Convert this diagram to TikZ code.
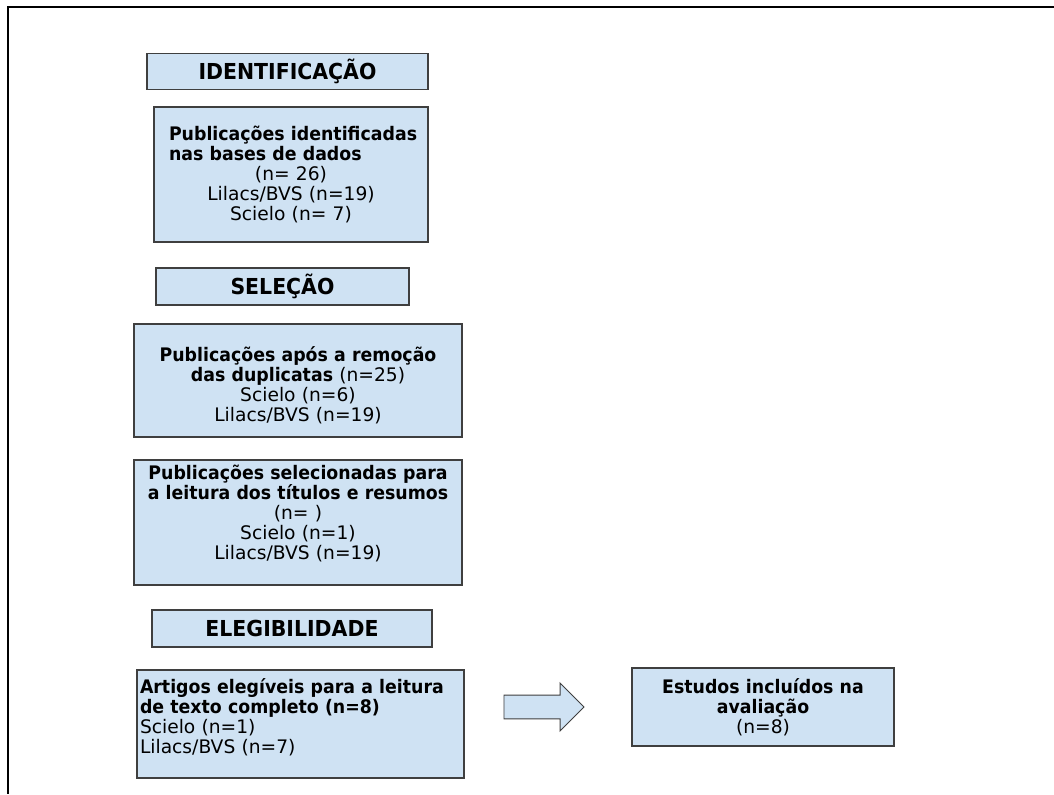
\documentclass[tikz,border=0pt]{standalone}
\usepackage{fontspec}
\setmainfont{DejaVu Sans}[BoldFeatures={FakeStretch=0.93}]
\usetikzlibrary{shapes,arrows.meta,positioning}
\definecolor{boxfill}{HTML}{CFE2F3}
\definecolor{boxline}{HTML}{3F3F3F}

\begin{document}
\begin{tikzpicture}[x=0.75pt,y=0.75pt,yscale=-1,xscale=1,
    stagebox/.style={draw=boxline,fill=boxfill,line width=0.9pt,inner sep=0pt,font=\fontsize{16.5}{18}\selectfont\bfseries},
    countbox/.style={draw=boxline,fill=boxfill,line width=0.9pt,inner xsep=4pt,inner ysep=0pt,align=center,font=\fontsize{14}{15}\selectfont},
    blockarrow/.style={single arrow,draw=boxline,fill=boxfill,line width=0.7pt,inner xsep=0pt,inner ysep=8.6pt,minimum height=60pt,single arrow head extend=9pt}]
    \useasboundingbox (0,0) rectangle (1054,794);
    
    %Shape: Frame
    \draw [line width=1.5pt] (1054,7) -- (8,7) -- (8,794) ;
    
    % Stage Node
    \node (hdIdent) at (287.5,71.5) [stagebox,minimum width=210.75pt,minimum height=27pt] {IDENTIFICAÇÃO};
    % Text Node
    \node (boxIdent) at (291,174.5) [countbox,minimum width=205.5pt,minimum height=101.25pt,text width=183pt] {\makebox[\hsize][l]{\textbf{Publicações identificadas}}\\
    \makebox[\hsize][l]{\textbf{nas bases de dados}}\\
    (n= 26)\\
    Lilacs/BVS (n=19)\\
    Scielo (n= 7)};
    
    % Stage Node
    \node (hdSel) at (282.5,286.5) [stagebox,minimum width=189.75pt,minimum height=27.75pt] {SELEÇÃO};
    % Text Node
    \node (boxDup) at (298,380.5) [countbox,minimum width=246pt,minimum height=84.75pt,text width=238pt] {\rule{0pt}{18pt}\textbf{Publicações após a remoção}\\
    \textbf{das duplicatas} (n=25)\\
    Scielo (n=6)\\
    Lilacs/BVS (n=19)};
    % Text Node
    \node (boxSel) at (298,522.5) [countbox,minimum width=246pt,minimum height=93.75pt,text width=238pt] {\textbf{Publicações selecionadas para}\\
    \textbf{a leitura dos títulos e resumos}\\
    (n= )\\
    Scielo (n=1)\\
    Lilacs/BVS (n=19)\rule[-15pt]{0pt}{15pt}};
    
    % Stage Node
    \node (hdEleg) at (292,628.5) [stagebox,minimum width=210pt,minimum height=27.75pt] {ELEGIBILIDADE};
    % Text Node
    \node (boxEleg) at (300.5,724) [countbox,align=left,inner xsep=2.25pt,minimum width=245.25pt,minimum height=81pt,text width=240.75pt] {\textbf{Artigos elegíveis para a leitura}\\
    \textbf{de texto completo (n=8)}\\
    Scielo (n=1)\\
    Lilacs/BVS (n=7)\rule[-12pt]{0pt}{12pt}};
    
    % Arrow
    \node (arrIncl) at (538,707) [blockarrow] {};
    % Text Node
    \node (boxIncl) at (763,707) [countbox,minimum width=196.5pt,minimum height=58.5pt,text width=188pt] {\textbf{Estudos incluídos na}\\
    \textbf{avaliação}\\
    (n=8)};
    
\end{tikzpicture}
\end{document}
